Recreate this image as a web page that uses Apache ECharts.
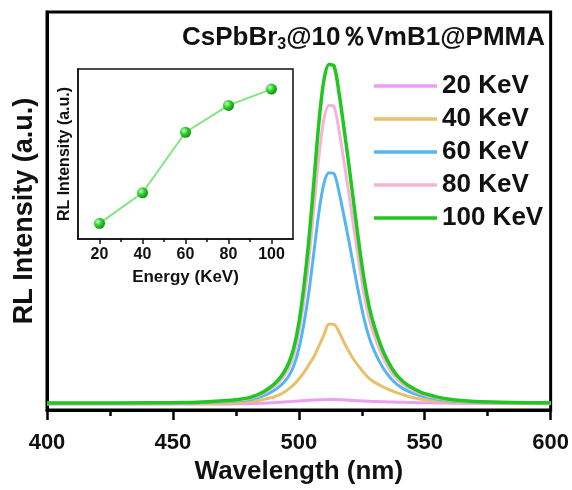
<!DOCTYPE html>
<html>
<head>
<meta charset="utf-8">
<script src="https://cdn.jsdelivr.net/npm/echarts@6/dist/echarts.min.js"></script>
<style>
html,body{margin:0;padding:0;background:#fff;}
#c{width:572px;height:490px;}
</style>
</head>
<body>
<div id="c"></div>
<script>
// ---- data ----
const wavelength = [400,420,440,460,470,476,480,482,484,486,488,490,492,494,496,498,500,502,504,506,508,510,512,514,516,518,520,522,524,526,528,530,532,534,536,538,540,542,544,546,548,550,556,562,570,585,600];
const kev20  = [1.5,1.5,1.5,1.5,1.52,1.55,1.6,1.63,1.67,1.72,1.78,1.85,1.93,2.02,2.1,2.18,2.26,2.34,2.42,2.5,2.56,2.6,2.62,2.62,2.58,2.52,2.45,2.38,2.31,2.25,2.19,2.14,2.1,2.06,2.02,1.98,1.95,1.92,1.89,1.86,1.84,1.82,1.77,1.72,1.68,1.62,1.6];
const kev40  = [1.6,1.6,1.6,1.62,1.7,1.85,2.05,2.2,2.4,2.65,2.95,3.25,3.75,4.4,5.3,6.4,7.8,9.4,11.4,13.4,16.1,18.9,21.6,21.5,19.6,16.9,14.6,12.5,10.8,9.2,7.9,7.0,6.3,5.6,5.05,4.55,4.1,3.7,3.3,3.0,2.75,2.55,2.2,1.95,1.8,1.68,1.62];
const kev60  = [1.7,1.7,1.73,1.84,2.07,2.31,2.59,2.86,3.2,3.64,4.19,4.87,5.75,6.91,8.54,11.13,15.35,21.62,29.66,39.67,49.81,57.03,59.62,59.35,54.65,48.52,42.05,35.24,28.57,22.64,18.08,14.81,12.22,10.04,8.34,6.98,5.96,5.17,4.56,4.05,3.64,3.3,2.62,2.21,1.97,1.8,1.73];
const kev80  = [1.7,1.7,1.74,1.88,2.18,2.49,2.84,3.2,3.64,4.21,4.91,5.79,6.94,8.43,10.54,13.89,19.34,27.44,37.82,50.76,63.87,73.2,76.54,76.19,70.12,62.2,53.84,45.04,36.42,28.76,22.86,18.64,15.3,12.48,10.28,8.52,7.2,6.19,5.4,4.74,4.21,3.77,2.89,2.36,2.05,1.83,1.74];
const kev100 = [1.75,1.75,1.8,1.95,2.3,2.65,3.05,3.45,3.95,4.6,5.4,6.4,7.7,9.4,11.8,15.6,21.8,31.0,42.8,57.5,72.4,83.0,86.8,86.4,79.5,70.5,61.0,51.0,41.2,32.5,25.8,21.0,17.2,14.0,11.5,9.5,8.0,6.85,5.95,5.2,4.6,4.1,3.1,2.5,2.15,1.9,1.8];
const seriesNames = ['20 KeV','40 KeV','60 KeV','80 KeV','100 KeV'];
const seriesColors = ['#EC9EF2','#E8BF6A','#55B5F2','#F7B3D6','#1FC71F'];

const insetEnergy = [20,40,60,80,100];
const insetIntensity = [9.2,27.2,62.8,78.6,88.2];
const insetTicks = [20,40,60,80,100];
const insetMinorTicks = [30,50,70,90];

const FONT = "'Liberation Sans', Arial, sans-serif";

const spectra = [kev20,kev40,kev60,kev80,kev100];
const mainSeries = spectra.map((arr,i)=>({
  name: seriesNames[i],
  type:'line',
  xAxisIndex:0, yAxisIndex:0,
  data: wavelength.map((w,j)=>[w,arr[j]]),
  smooth:0.3,
  showSymbol:false,
  symbol:'none',
  lineStyle:{color:seriesColors[i],width:i===4?3.5:3,join:'round'},
  itemStyle:{color:seriesColors[i]},
  z:2+i
}));

const chart = echarts.init(document.getElementById('c'),null,{renderer:'canvas'});
chart.setOption({
  animation:false,
  backgroundColor:'#fff',
  textStyle:{fontFamily:FONT},
  title:{
    text:'CsPbBr{s|3}@10％VmB1@PMMA',
    right:22, top:18,
    textStyle:{fontFamily:FONT,fontSize:26,fontWeight:'bold',color:'#111',
      rich:{s:{fontFamily:FONT,fontSize:16,fontWeight:'bold',color:'#111',verticalAlign:'bottom',padding:[14,0,0,0]}}}
  },
  legend:{
    orient:'vertical',
    left:369, top:68,
    icon:'rect',
    itemWidth:63, itemHeight:3.5,
    itemGap:7,
    data:seriesNames,
    textStyle:{fontFamily:FONT,fontSize:26,fontWeight:'bold',color:'#111',lineHeight:26}
  },
  grid:[
    {left:47,right:21,top:12,bottom:77,show:true,borderColor:'#000',borderWidth:3,backgroundColor:'transparent'},
    {left:78,right:279,top:69,bottom:251,show:true,borderColor:'#111',borderWidth:1.5,backgroundColor:'#fff',z:10}
  ],
  xAxis:[
    {type:'value',gridIndex:0,min:400,max:600,interval:50,
     name:'Wavelength (nm)',nameLocation:'middle',nameGap:49,
     nameTextStyle:{fontFamily:FONT,fontSize:26,fontWeight:'bold',color:'#111'},
     axisLine:{show:true,lineStyle:{color:'#000',width:3}},
     axisTick:{show:true,length:10,lineStyle:{color:'#000',width:2.5}},
     minorTick:{show:true,splitNumber:2,length:6,lineStyle:{color:'#000',width:2.5}},
     axisLabel:{fontFamily:FONT,fontSize:22,fontWeight:'bold',color:'#111',margin:22},
     splitLine:{show:false}},
    {type:'value',gridIndex:1,min:10,max:110,interval:10,
     name:'Energy (KeV)',nameLocation:'middle',nameGap:30,
     nameTextStyle:{fontFamily:FONT,fontSize:17,fontWeight:'bold',color:'#111'},
     axisLine:{show:true,lineStyle:{color:'#111',width:1.5}},
     axisTick:{show:true,length:5,customValues:insetTicks,lineStyle:{color:'#111',width:1.5}},
     axisLabel:{fontFamily:FONT,fontSize:16,fontWeight:'bold',color:'#111',margin:8,customValues:insetTicks},
     splitLine:{show:false},z:11},
    {type:'value',gridIndex:1,min:10,max:110,interval:10,position:'bottom',
     axisLine:{show:false},
     axisTick:{show:true,length:3,customValues:insetMinorTicks,lineStyle:{color:'#111',width:1.5}},
     axisLabel:{show:false},splitLine:{show:false},z:11}
  ],
  yAxis:[
    {type:'value',gridIndex:0,min:0,max:100,
     name:'RL Intensity (a.u.)',nameLocation:'middle',nameGap:9,
     nameTextStyle:{fontFamily:FONT,fontSize:27,fontWeight:'bold',color:'#111'},
     axisLine:{show:true,lineStyle:{color:'#000',width:3}},
     axisTick:{show:false},axisLabel:{show:false},splitLine:{show:false}},
    {type:'value',gridIndex:1,min:0,max:100,
     name:'RL Intensity (a.u.)',nameLocation:'middle',nameGap:5,
     nameTextStyle:{fontFamily:FONT,fontSize:16,fontWeight:'bold',color:'#111'},
     axisLine:{show:true,lineStyle:{color:'#111',width:1.5}},
     axisTick:{show:false},axisLabel:{show:false},splitLine:{show:false},z:11}
  ],
  series: mainSeries.concat([{
    name:'inset',
    type:'line',
    xAxisIndex:1, yAxisIndex:1,
    data: insetEnergy.map((e,i)=>[e,insetIntensity[i]]),
    symbol:'circle', symbolSize:11, showSymbol:true,
    lineStyle:{color:'#7FE67F',width:2},
    itemStyle:{color:new echarts.graphic.RadialGradient(0.35,0.35,0.7,[
      {offset:0,color:'#c8ffc8'},{offset:0.45,color:'#2ed42e'},{offset:1,color:'#128a12'}])},
    z:12
  }])
});
</script>
</body>
</html>
